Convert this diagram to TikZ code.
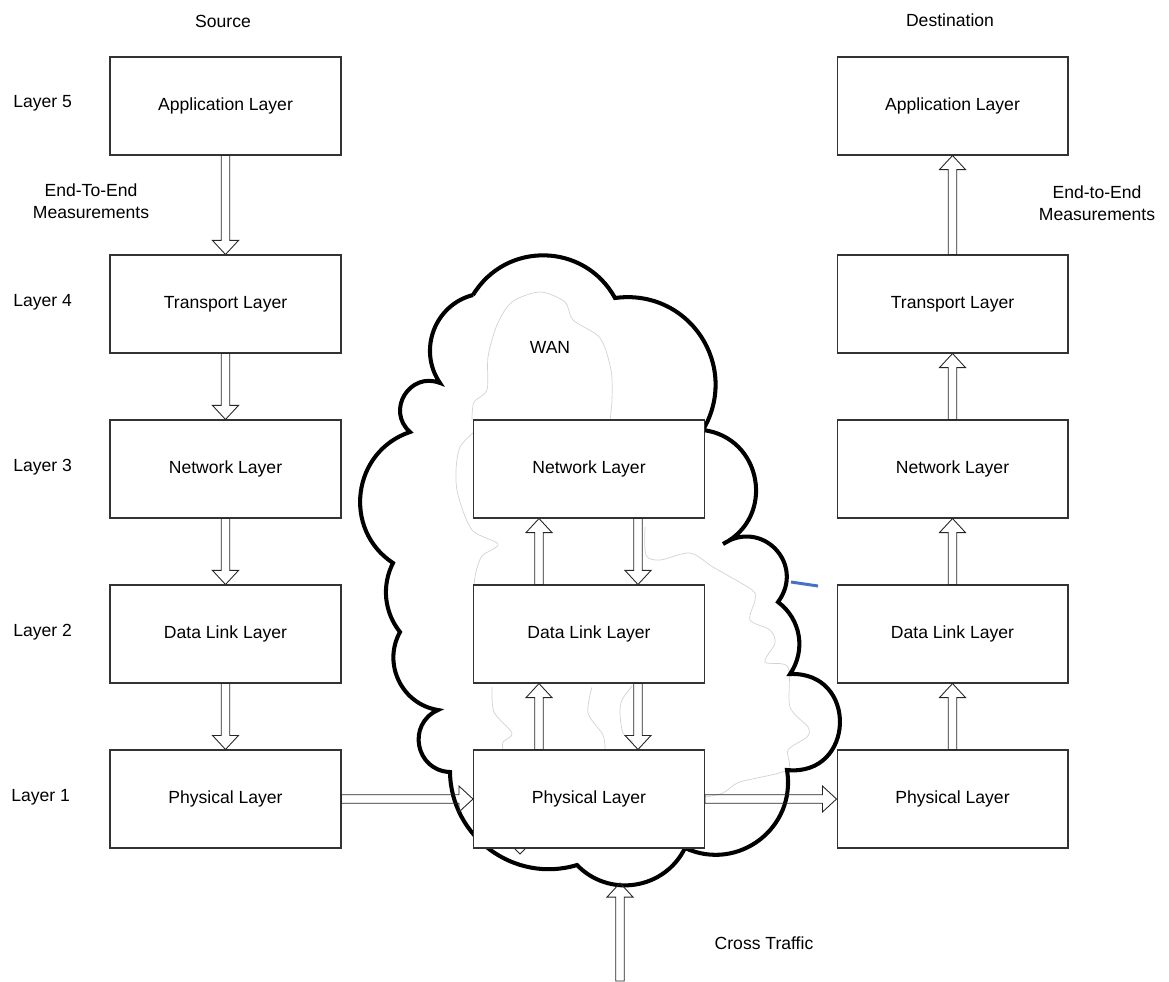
\documentclass[tikz,border=0pt]{standalone}
\usepackage{fontspec}
\setmainfont{Liberation Sans}
\usetikzlibrary{calc, positioning}
\definecolor{boxline}{HTML}{333333}
\definecolor{ghostgray}{HTML}{D2D2D2}
\definecolor{linkblue}{HTML}{4472C4}

\tikzset{
  layerbox/.style={draw=boxline, fill=white, line width=0.6pt,
    minimum width=4.62cm, minimum height=1.96cm, inner sep=0pt,
    font=\fontsize{10pt}{12pt}\selectfont},
  lbl/.style={font=\fontsize{10pt}{12.5pt}\selectfont, inner sep=0pt, align=center},
  hollowarrow/.style={draw=black!85, line width=0.5pt, line join=miter,
    to path={let \p1=(\tikztostart), \p2=(\tikztotarget),
      \n1={atan2(\y2-\y1,\x2-\x1)}, \n2={veclen(\x2-\x1,\y2-\y1)-8pt} in
      -- ($(\p1)+(\n1+90:2.4pt)$)
      -- ($(\p1)+(\n1:\n2)+(\n1+90:2.4pt)$)
      -- ($(\p1)+(\n1:\n2)+(\n1+90:7.4pt)$)
      -- (\p2)
      -- ($(\p1)+(\n1:\n2)+(\n1-90:7.4pt)$)
      -- ($(\p1)+(\n1:\n2)+(\n1-90:2.4pt)$)
      -- ($(\p1)+(\n1-90:2.4pt)$)
      -- cycle}},
  cloudline/.style={draw=black, line width=2.3pt},
  ghostline/.style={draw=ghostgray, line width=0.4pt}
}

\begin{document}
\begin{tikzpicture}[x=0.02cm, y=-0.02cm]

  \useasboundingbox (0,0) rectangle (1169,981);

  %% WAN cloud, faint inner outline first
  \draw[ghostline] plot[smooth] coordinates {(472,420) (474,402) (487,390) (488,357)
    (497,325) (512,302) (540,292) (565,302) (573,320) (600,338) (611,370) (612,400) (610,420)};
  \draw[ghostline] plot[smooth] coordinates {(473,433) (460,447) (456,470) (458,495)
    (472,530) (498,544) (482,556) (476,572) (474,585)};
  \draw[ghostline] plot[smooth] coordinates {(492,687) (494,712) (512,733) (503,742) (503,750)};
  \draw[ghostline] plot[smooth] coordinates {(592,687) (588,713) (603,735) (605,750)};
  \draw[ghostline] plot[smooth] coordinates {(632,686) (622,700) (620,713) (623,733) (633,742)};
  \draw[ghostline] plot[smooth] coordinates {(645,527) (646,555) (660,560) (690,553)
    (713,567) (752,590) (755,600) (750,620) (770,630) (775,643) (765,662) (788,667)
    (790,707) (808,727) (807,737) (788,750) (787,770) (740,782) (723,793) (705,797)};

  \draw[cloudline] (473,295)
    to[bend left=60, looseness=1.14] (615,298)
    to[bend left=64, looseness=1.2] (703,430)
    to[bend left=73, looseness=1.32] (723,544)
    to[bend left=80, looseness=1.5] (778,602)
    to[bend left=44, looseness=1.0] (790,674)
    to[bend left=94, looseness=1.83] (787,770)
    to[bend left=62, looseness=1.17] (685,848)
    to[bend left=55, looseness=1.08] (577,865)
    to[bend left=53, looseness=1.06] (450,772)
    to[bend left=77, looseness=1.4] (438,710)
    to[bend left=55, looseness=1.08] (400,632)
    to[bend left=33, looseness=0.93] (393,563)
    to[bend left=64, looseness=1.18] (410,432)
    to[bend left=80, looseness=1.45] (440,383)
    to[bend left=55, looseness=1.08] (473,295);
  \draw[linkblue, line width=1.7pt] (791,582) -- (818,586);
  \draw[black!85, line width=0.5pt] (513,847) -- (520,854) -- (527,847);

  %% Layer boxes
  \foreach \col/\x in {src/225.5, dst/952.5}{
    \node[layerbox] (\col-app) at (\x,106) {Application Layer};
    \node[layerbox] (\col-tra) at (\x,304) {Transport Layer};
    \node[layerbox] (\col-net) at (\x,469) {Network Layer};
    \node[layerbox] (\col-dl)  at (\x,634) {Data Link Layer};
    \node[layerbox] (\col-phy) at (\x,799) {Physical Layer};
  }
  \node[layerbox] (wan-net) at (589,469) {Network Layer};
  \node[layerbox] (wan-dl)  at (589,634) {Data Link Layer};
  \node[layerbox] (wan-phy) at (589,799) {Physical Layer};

  %% Labels
  \node[lbl] (src-title) at (223,21) {Source};
  \node[lbl] (dst-title) at (950,20) {Destination};
  \node[lbl, anchor=west] (lay5) at (13,103) {Layer 5};
  \node[lbl, anchor=west] (lay4) at (13,302) {Layer 4};
  \node[lbl, anchor=west] (lay3) at (13,467) {Layer 3};
  \node[lbl, anchor=west] (lay2) at (13,632) {Layer 2};
  \node[lbl, anchor=west] (lay1) at (11,797) {Layer 1};
  \node[lbl] (src-e2e) at (91,201) {End-To-End\\Measurements};
  \node[lbl] (dst-e2e) at (1097,203) {End-to-End\\Measurements};
  \node[lbl] (wan) at (550,347) {WAN};
  \node[lbl] (cross) at (764,943) {Cross Traffic};

  %% Arrows
  \foreach \a/\b in {app/tra, tra/net, net/dl, dl/phy}{
    \draw[hollowarrow] (src-\a.south) to (src-\b.north);
    \draw[hollowarrow] (dst-\b.north) to (dst-\a.south);
  }
  \draw[hollowarrow] ([xshift=-1cm]wan-dl.north) to ([xshift=-1cm]wan-net.south);
  \draw[hollowarrow] ([xshift=0.98cm]wan-net.south) to ([xshift=0.98cm]wan-dl.north);
  \draw[hollowarrow] ([xshift=-1cm]wan-phy.north) to ([xshift=-1cm]wan-dl.south);
  \draw[hollowarrow] ([xshift=0.98cm]wan-dl.south) to ([xshift=0.98cm]wan-phy.north);
  \draw[hollowarrow] (src-phy.east) to (wan-phy.west);
  \draw[hollowarrow] (wan-phy.east) to (dst-phy.west);

  \coordinate (ct-foot) at (620,981);
  \coordinate (ct-tip) at (620,883);
  \draw[hollowarrow] (ct-foot) to (ct-tip);

\end{tikzpicture}
\end{document}
